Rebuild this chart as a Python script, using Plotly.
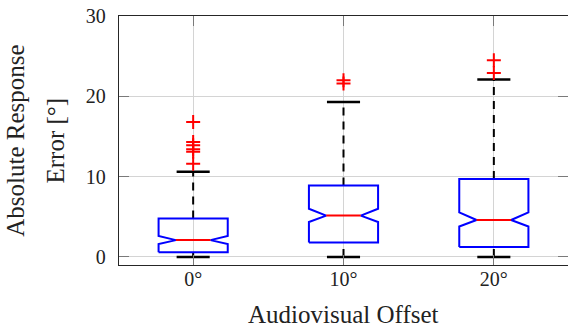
import plotly.graph_objects as go

# ---- data ----
categories = ["0°", "10°", "20°"]
q1 = [0.6, 1.8, 1.25]
median = [2.1, 5.15, 4.6]
q3 = [4.8, 8.9, 9.7]
notch_lo = [1.6, 4.35, 3.8]
notch_hi = [2.6, 6.0, 5.55]
whisker_lo = [0.0, 0.0, 0.0]
whisker_hi = [10.6, 19.3, 22.1]
outliers = [
    [11.6, 13.1, 13.4, 13.9, 14.3, 16.8],
    [21.6, 22.0],
    [22.9, 24.5],
]
y_ticks = [0, 10, 20, 30]

# ---- styles ----
BLUE = "#0000ff"
RED = "#ff0000"
HW = 0.23      # half box width
NW = 0.115     # half width at notch tip
CW = 0.11      # half cap width
FONT = "Liberation Serif"
positions = [i + 1 for i in range(len(categories))]

fig = go.Figure()

for i, p in enumerate(positions):
    # whiskers (dashed)
    fig.add_trace(go.Scatter(
        x=[p, p, None, p, p],
        y=[q3[i], whisker_hi[i], None, whisker_lo[i], q1[i]],
        mode="lines", line=dict(color="black", width=2, dash="8px,6px"),
        hoverinfo="skip", showlegend=False))
    # caps
    fig.add_trace(go.Scatter(
        x=[p - CW, p + CW, None, p - CW, p + CW],
        y=[whisker_hi[i], whisker_hi[i], None, whisker_lo[i], whisker_lo[i]],
        mode="lines", line=dict(color="black", width=2.5),
        hoverinfo="skip", showlegend=False))
    # notched box
    fig.add_trace(go.Scatter(
        x=[p - HW, p + HW, p + HW, p + NW, p + HW, p + HW,
           p - HW, p - HW, p - NW, p - HW, p - HW],
        y=[q1[i], q1[i], notch_lo[i], median[i], notch_hi[i], q3[i],
           q3[i], notch_hi[i], median[i], notch_lo[i], q1[i]],
        mode="lines", line=dict(color=BLUE, width=2),
        hoverinfo="skip", showlegend=False))
    # median
    fig.add_trace(go.Scatter(
        x=[p - NW, p + NW], y=[median[i], median[i]],
        mode="lines", line=dict(color=RED, width=2),
        hoverinfo="skip", showlegend=False))
    # outliers
    fig.add_trace(go.Scatter(
        x=[p] * len(outliers[i]), y=outliers[i],
        mode="markers",
        marker=dict(symbol="cross-thin", size=10, color=RED,
                    line=dict(color=RED, width=2)),
        hoverinfo="skip", showlegend=False))

# dummy trace for the right-side tick axis
fig.add_trace(go.Scatter(x=[None], y=[None], yaxis="y2", showlegend=False))

AXC = "#262626"
GRID = "#d4d4d4"
TICKC = "#7a7a7a"

fig.update_layout(
    width=568, height=331,
    margin=dict(l=119, r=0, t=16, b=66),
    paper_bgcolor="white", plot_bgcolor="white",
    font=dict(family=FONT, size=20, color="#222222"),
    xaxis=dict(
        range=[0.5067, 3.4933], tickvals=positions, ticktext=categories,
        showgrid=True, gridcolor=GRID, gridwidth=1, zeroline=False,
        showline=True, linecolor=AXC, linewidth=1.3, mirror="ticks",
        ticks="inside", ticklen=10, tickcolor=TICKC, tickwidth=1,
        ticklabelstandoff=-4, tickfont=dict(family=FONT, size=20, color="#222222"),
    ),
    yaxis=dict(
        range=[-1, 30], tickvals=y_ticks,
        showgrid=True, gridcolor=GRID, gridwidth=1, zeroline=False,
        showline=True, linecolor=AXC, linewidth=1.3,
        ticks="inside", ticklen=10, tickcolor=TICKC, tickwidth=1,
        ticklabelstandoff=8, tickfont=dict(family=FONT, size=20, color="#222222"),
    ),
    yaxis2=dict(
        range=[-1, 30], tickvals=y_ticks, overlaying="y", side="right",
        showgrid=False, zeroline=False, showline=False,
        ticks="inside", ticklen=10, tickcolor=TICKC, tickwidth=1,
        showticklabels=False,
    ),
    annotations=[
        dict(text="Audiovisual Offset", xref="paper", yref="paper",
             x=0.501, y=-0.197, xanchor="center", yanchor="middle",
             showarrow=False, font=dict(family=FONT, size=25, color="#222222")),
        dict(text="Absolute Response", xref="paper", yref="paper",
             x=-0.231, y=0.5, xanchor="center", yanchor="middle", textangle=-90,
             showarrow=False, font=dict(family=FONT, size=25, color="#222222")),
        dict(text="Error [°]", xref="paper", yref="paper",
             x=-0.1425, y=0.5, xanchor="center", yanchor="middle", textangle=-90,
             showarrow=False, font=dict(family=FONT, size=25, color="#222222")),
    ],
)

fig.write_html(
    "out.html",
    config={"displayModeBar": False},
    post_script="document.body.style.margin='0px';document.body.style.padding='0px';"
                "document.documentElement.style.overflow='hidden';",
)
